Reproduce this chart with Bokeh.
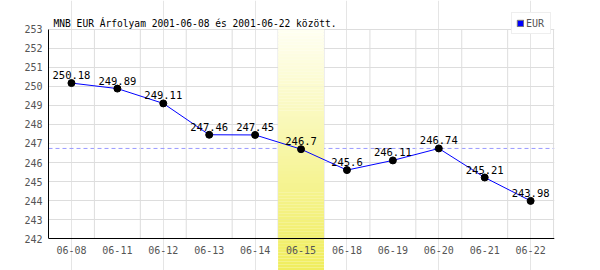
from bokeh.plotting import figure
from bokeh.models import Span, Label, Legend, LegendItem, FixedTicker, Range1d
from bokeh.core.properties import value
from bokeh.embed import file_html
from bokeh.resources import INLINE

# ---- data ----
categories = ["06-08", "06-11", "06-12", "06-13", "06-14", "06-15",
              "06-18", "06-19", "06-20", "06-21", "06-22"]
rates = [250.18, 249.89, 249.11, 247.46, 247.45, 246.7,
         245.6, 246.11, 246.74, 245.21, 243.98]
y_ticks = [242, 243, 244, 245, 246, 247, 248, 249, 250, 251, 252, 253]
reference_level = 246.74
highlight = "06-15"
series_name = "EUR"
title_text = "MNB EUR Árfolyam 2001-06-08 és 2001-06-22 között."

MONO = "DejaVu Sans Mono"
idx = list(range(len(categories)))
labels = [str(v) for v in rates]
ymin, ymax = y_ticks[0], y_ticks[-1]
y_lo, y_hi = 240.316, 254.526
NAN = float("nan")

p = figure(width=600, height=270, output_backend="svg", toolbar_location=None,
           x_axis_location=None,
           x_range=Range1d(-0.5, len(categories) - 0.48),
           y_range=Range1d(y_lo, y_hi),
           min_border_left=48, min_border_right=46, min_border_top=0,
           min_border_bottom=0)
p.outline_line_color = None
p.background_fill_color = "white"

# y axis
p.yaxis.ticker = FixedTicker(ticks=y_ticks)
p.yaxis.bounds = (ymin, ymax)
p.yaxis.axis_line_color = "black"
p.yaxis.major_tick_line_color = None
p.yaxis.minor_tick_line_color = None
p.yaxis.major_tick_out = 0
p.yaxis.major_tick_in = 0
p.yaxis.major_label_standoff = 6
p.yaxis.major_label_text_font = MONO
p.yaxis.major_label_text_font_size = "10px"
p.yaxis.major_label_text_color = "#555555"
p.ygrid.ticker = FixedTicker(ticks=y_ticks)
p.ygrid.grid_line_color = "#dddddd"

# vertical grid lines between categories (stop at the x axis)
vx = [i + 0.5 for i in idx]
p.segment(x0=vx, y0=[ymin] * len(vx), x1=vx, y1=[ymax] * len(vx),
          line_color="#dddddd", line_width=1)

# reference (dashed) level under the highlight band
p.add_layout(Span(location=reference_level, dimension="width", line_color="#9999ff",
                  line_dash="4 3", line_width=1, level="underlay"))

# highlight band with vertical gradient
hi = categories.index(highlight)
n = 80
top_c = (255, 255, 242)
bot_c = (240, 237, 92)
y_top, y_bot = ymax, y_lo
lefts, rights, tops, bottoms, cols = [], [], [], [], []
for k in range(n):
    t0 = y_top - (y_top - y_bot) * k / n
    t1 = y_top - (y_top - y_bot) * (k + 1) / n
    f = (k + 0.5) / n
    c = tuple(int(round(top_c[j] + (bot_c[j] - top_c[j]) * f)) for j in range(3))
    lefts.append(hi - 0.5)
    rights.append(hi + 0.5)
    tops.append(t0 + 0.002)
    bottoms.append(t1 - 0.002)
    cols.append("#%02x%02x%02x" % c)
p.quad(left=lefts, right=rights, top=tops, bottom=bottoms,
       fill_color=cols, line_color=None)

# x axis line
p.add_layout(Span(location=ymin, dimension="width", line_color="black", line_width=1))

# x category labels
p.text(x=idx, y=[ymin] * len(idx), text=categories, y_offset=11,
       text_align="center", text_baseline="middle",
       text_font=value(MONO), text_font_size="10px", text_color="#555555")

# data line and points
p.line(idx, rates, line_color="#0000ff", line_width=1)
p.scatter(idx, rates, size=7, fill_color="black", line_color="black")
p.text(x=idx, y=rates, text=labels, y_offset=-8,
       text_align="center", text_baseline="alphabetic",
       text_font=value(MONO), text_font_size="10.5px", text_color="black")

# title (inside the frame area, which extends to the top edge)
p.add_layout(Label(x=5, y=247.5, x_units="screen", y_units="screen", text=title_text,
                   text_font=MONO, text_font_size="9.6px", text_color="black",
                   text_baseline="alphabetic"))

# legend (swatch from an invisible helper renderer)
leg_r = p.quad(left=[NAN], right=[NAN], top=[NAN], bottom=[NAN], fill_color="#0000ff",
               line_color="#777777")
legend = Legend(items=[LegendItem(label=series_name, renderers=[leg_r], index=0)],
                location=(463, 236), orientation="vertical",
                glyph_width=8, glyph_height=8, label_height=12, label_standoff=2,
                padding=4, margin=0, spacing=0,
                label_text_font=MONO, label_text_font_size="10px",
                label_text_color="#555555",
                border_line_color="#dddddd", background_fill_color="white",
                background_fill_alpha=1)
p.add_layout(legend, "center")

open("out.html", "w").write(file_html(p, INLINE))
